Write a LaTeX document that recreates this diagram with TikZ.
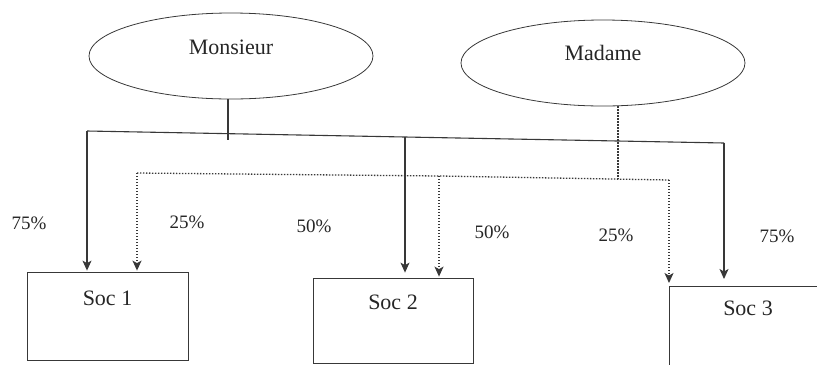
\documentclass[tikz,border=0pt]{standalone}
\usepackage{fontspec}
\setmainfont{Liberation Serif}
\usetikzlibrary{shapes.geometric,arrows.meta}
\definecolor{ink}{HTML}{383838}
\tikzset{
  owner/.style={draw=ink, line width=0.8pt, ellipse, minimum width=284pt, minimum height=86pt, inner sep=0pt},
  socbox/.style={draw=ink, line width=0.8pt, rectangle, inner sep=0pt},
  namefont/.style={font=\fontsize{22}{26}\selectfont, text=black!85},
  pctfont/.style={font=\fontsize{19}{22}\selectfont, text=black!85},
  share/.style={draw=ink, line width=1.1pt},
  sharedot/.style={draw=ink, line width=1.3pt, dash pattern=on 1.4pt off 1.6pt},
  tip/.style={-{Stealth[length=10pt,width=9pt,inset=2.5pt]}, shorten >=1pt},
}
\begin{document}
\begin{tikzpicture}[x=1pt,y=-1pt]
\useasboundingbox (0,0) rectangle (817,365);

% owners
\node[owner, label={[namefont, yshift=9pt]center:Monsieur}] (m) at (231,56) {};
\node[owner, label={[namefont, yshift=10pt]center:Madame}] (d) at (603,63) {};

% companies
\node[socbox, minimum width=161pt, minimum height=88pt,
      label={[namefont, yshift=18pt]center:Soc 1}] (s1) at (107.5,316) {};
\node[socbox, minimum width=160pt, minimum height=85pt,
      label={[namefont, yshift=18.5pt]center:Soc 2}] (s2) at (393,320.5) {};
\coordinate (s3) at (669,286);
\coordinate (s3r) at (817,286);
\coordinate (s3b) at (669,365);
\draw[socbox] (s3r) -- (s3) -- (s3b);
\node[namefont] (s3t) at (748,308) {Soc 3};

% Monsieur's holdings (solid)
\coordinate (mb) at (228,134);
\coordinate (mbe) at (228,140);
\coordinate (ml) at (87,131);
\coordinate (mc) at (405,137);
\coordinate (mr) at (724,143);
\draw[share] (m.south -| mb) -- (mbe);
\draw[share] (ml) -- (mc) -- (mr);
\draw[share, tip] (ml) -- (ml |- s1.north);
\draw[share, tip, shorten >=5pt] (mc) -- (mc |- s2.north);
\draw[share, tip, shorten >=7pt] (mr) -- (mr |- s3);

% Madame's holdings (dotted)
\coordinate (db) at (618,179);
\coordinate (dl) at (137,173);
\coordinate (dc) at (439,176);
\coordinate (dr) at (669,180);
\draw[sharedot] (d.south -| db) -- (db);
\draw[sharedot] (dl) -- (dc) -- (dr);
\draw[sharedot, tip] (dl) -- (dl |- s1.north);
\draw[sharedot, tip] (dc) -- (dc |- s2.north);
\draw[sharedot, tip, shorten >=3pt] (dr) -- (s3);

% percentages
\node[pctfont] (p1) at (29,223) {75\%};
\node[pctfont] (p2) at (187,222) {25\%};
\node[pctfont] (p3) at (314,226) {50\%};
\node[pctfont] (p4) at (492,232) {50\%};
\node[pctfont] (p5) at (616,235) {25\%};
\node[pctfont] (p6) at (777,236) {75\%};
\end{tikzpicture}
\end{document}
